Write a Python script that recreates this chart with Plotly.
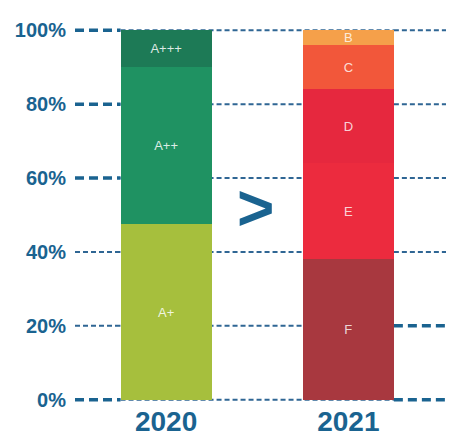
import plotly.graph_objects as go

years = ["2020", "2021"]
classes_2020 = ["A+", "A++", "A+++"]
shares_2020 = [47.5, 42.5, 10]
colors_2020 = ["#a6bf3d", "#1f9262", "#1d7a56"]
classes_2021 = ["F", "E", "D", "C", "B"]
shares_2021 = [38, 26, 20, 12, 4]
colors_2021 = ["#a8383f", "#ec2b3e", "#e6283e", "#f2573a", "#f5a04a"]
y_ticks = [0, 20, 40, 60, 80, 100]
y_tick_labels = ["0%", "20%", "40%", "60%", "80%", "100%"]
thick_left = [0, 60, 80, 100]
thick_right = [0, 20]

BLUE = "#1a6390"
GRID = "#2f6694"
FONT = "Arial, Liberation Sans, sans-serif"

fig = go.Figure()
for name, val, col in zip(classes_2020, shares_2020, colors_2020):
    fig.add_trace(go.Bar(x=[years[0]], y=[val], name=name, marker_color=col,
                         marker_line_width=0, width=0.5, text=[name],
                         textposition="inside", insidetextanchor="middle", textangle=0,
                         textfont=dict(size=13, color="rgba(255,255,255,0.85)", family=FONT)))
for name, val, col in zip(classes_2021, shares_2021, colors_2021):
    fig.add_trace(go.Bar(x=[years[1]], y=[val], name=name, marker_color=col,
                         marker_line_width=0, width=0.5, text=[name],
                         textposition="inside", insidetextanchor="middle", textangle=0,
                         textfont=dict(size=14, color="rgba(255,255,255,0.8)", family=FONT)))

thin = dict(color=GRID, width=2, dash="5px,3px")
thick = dict(color=BLUE, width=3.5, dash="9px,5px")
for t in y_ticks:
    fig.add_shape(type="line", xref="x", yref="y", x0=-0.5, x1=-0.25, y0=t, y1=t,
                  line=thick if t in thick_left else thin, layer="below")
    fig.add_shape(type="line", xref="x", yref="y", x0=-0.25, x1=1.25, y0=t, y1=t,
                  line=thin, layer="below")
    fig.add_shape(type="line", xref="x", yref="y", x0=1.25, x1=1.58, y0=t, y1=t,
                  line=thick if t in thick_right else thin, layer="below")

fig.add_annotation(x=0.49, y=52, xref="x", yref="y", text="<b>&gt;</b>", showarrow=False,
                   font=dict(size=64, color=BLUE, family=FONT))

fig.update_layout(
    width=446, height=428,
    margin=dict(l=67, r=0, t=20, b=34, autoexpand=False),
    barmode="stack",
    showlegend=False,
    plot_bgcolor="white", paper_bgcolor="white",
    uniformtext=dict(minsize=12, mode="show"),
    xaxis=dict(type="category", range=[-0.5, 1.58], showgrid=False, zeroline=False,
               showline=False, ticks="", ticklabelstandoff=0, automargin=False,
               tickfont=dict(size=28, color=BLUE, family=FONT, weight="bold")),
    yaxis=dict(range=[-0.6, 100.6], tickvals=y_ticks, ticktext=y_tick_labels,
               showgrid=False, zeroline=False, showline=False, ticks="",
               ticklabelstandoff=8, automargin=False,
               tickfont=dict(size=20, color=BLUE, family=FONT, weight="bold")),
)

fig.write_html("out.html")
